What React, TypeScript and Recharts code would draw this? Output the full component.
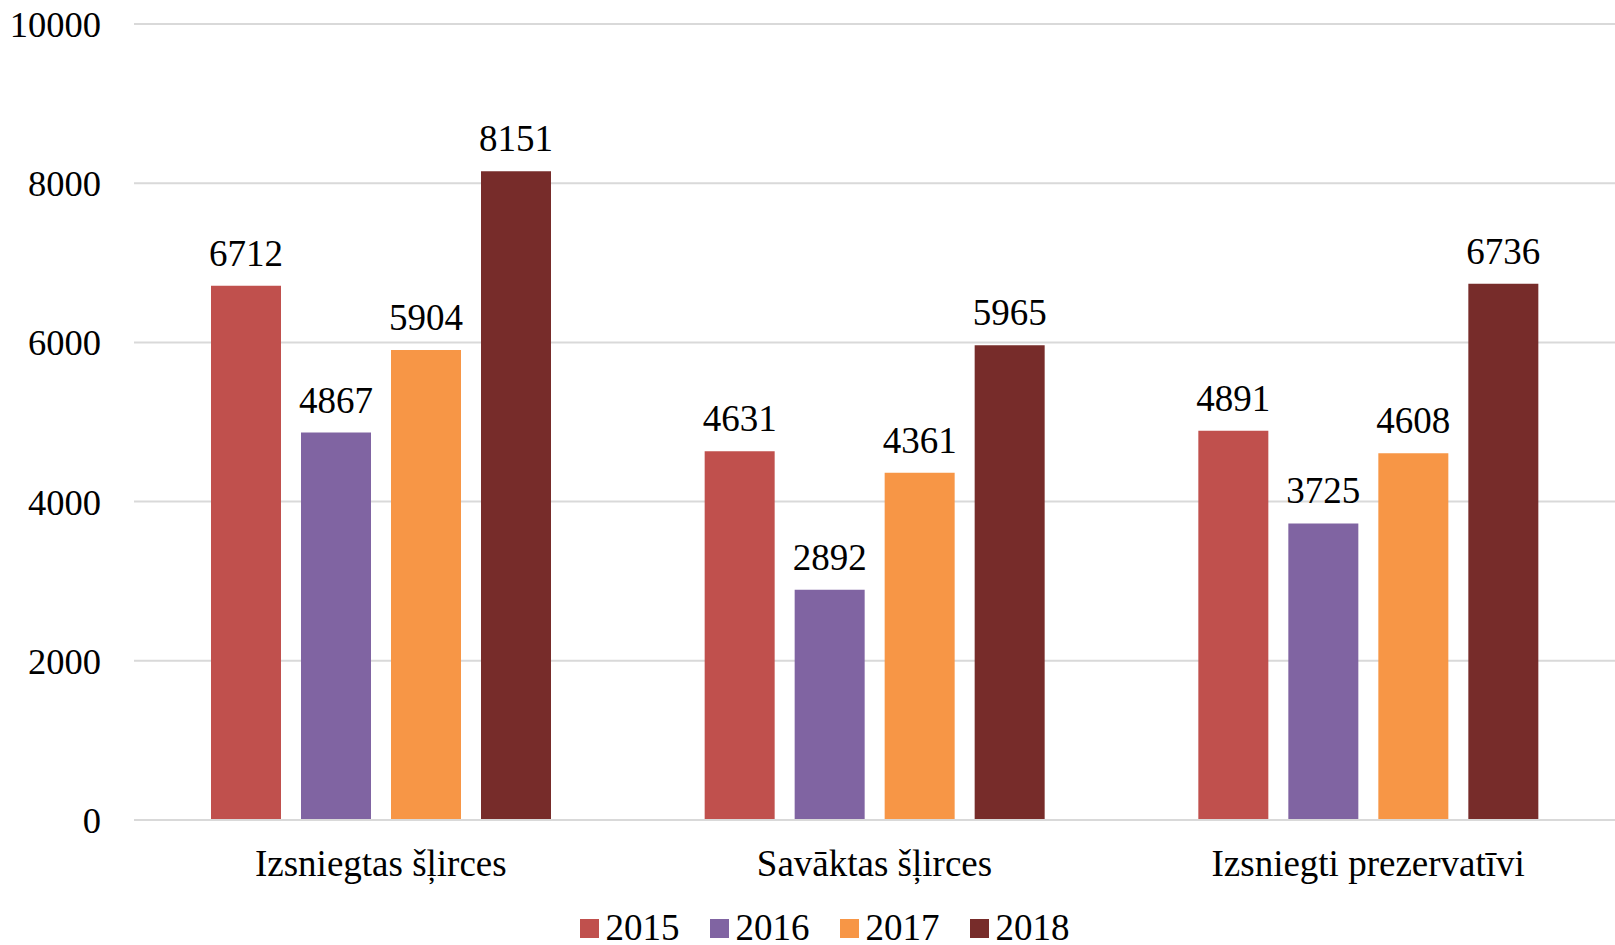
import React from "react";
import { BarChart, Bar, XAxis, YAxis, CartesianGrid, Legend, LabelList } from "recharts";

const categories = ["Izsniegtas šļirces", "Savāktas šļirces", "Izsniegti prezervatīvi"];
const years = ["2015", "2016", "2017", "2018"];
const values2015 = [6712, 4631, 4891];
const values2016 = [4867, 2892, 3725];
const values2017 = [5904, 4361, 4608];
const values2018 = [8151, 5965, 6736];
const yTicks = [0, 2000, 4000, 6000, 8000, 10000];
const colors = ["#C0504D", "#8064A2", "#F79646", "#772C2A"];

const seriesValues = [values2015, values2016, values2017, values2018];
const data = categories.map((c, i) => {
  const row: Record<string, string | number> = { name: c };
  years.forEach((y, j) => {
    row[y] = seriesValues[j][i];
  });
  return row;
});

const FONT = "Liberation Serif, Times New Roman, serif";

const renderLegend = () => (
  <div
    style={{
      height: 40,
      display: "flex",
      justifyContent: "center",
      alignItems: "center",
      fontFamily: FONT,
      fontSize: 37,
      lineHeight: "40px",
      color: "#000",
      paddingLeft: 34,
      boxSizing: "border-box",
    }}
  >
    {years.map((y, i) => (
      <div key={y} style={{ display: "flex", alignItems: "center", marginLeft: i === 0 ? 0 : 30, fontFamily: FONT }}>
        <span style={{ display: "inline-block", width: 19, height: 19, background: colors[i], marginRight: 7 }} />
        <span style={{ fontFamily: FONT }}>{y}</span>
      </div>
    ))}
  </div>
);

export default function App() {
  return (
    <div style={{ position: "absolute", left: 0, top: 0, width: 1615, height: 945, background: "#fff", fontFamily: FONT }}>
      <BarChart
        width={1615}
        height={945}
        data={data}
        margin={{ top: 24, right: 0, bottom: 0, left: 0 }}
        barGap={20}
        style={{ fontFamily: FONT }}
      >
        <CartesianGrid vertical={false} stroke="#d9d9d9" strokeWidth={2} />
        <XAxis
          dataKey="name"
          height={85}
          tickLine={false}
          axisLine={{ stroke: "#d9d9d9", strokeWidth: 2 }}
          tickMargin={24}
          tick={{ fill: "#000", fontSize: 37, fontFamily: FONT }}
          interval={0}
        />
        <YAxis
          width={134}
          domain={[0, 10000]}
          ticks={yTicks}
          tickLine={false}
          axisLine={false}
          tickMargin={27}
          tick={{ fill: "#000", fontSize: 36.5, fontFamily: FONT }}
        />
        <Legend
          verticalAlign="bottom"
          content={renderLegend}
          wrapperStyle={{ left: 0, width: 1615, bottom: -3 }}
        />
        {years.map((y, i) => (
          <Bar key={y} dataKey={y} fill={colors[i]} barSize={70} isAnimationActive={false}>
            <LabelList dataKey={y} position="top" offset={20} fill="#000" fontSize={37} fontFamily={FONT} />
          </Bar>
        ))}
      </BarChart>
    </div>
  );
}
